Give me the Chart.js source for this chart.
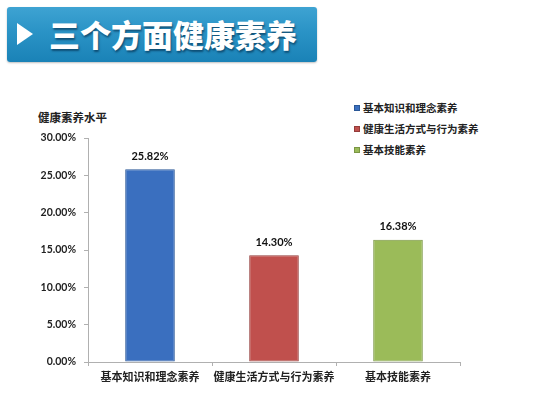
<!DOCTYPE html>
<html>
<head>
<meta charset="utf-8">
<script src="https://cdn.jsdelivr.net/npm/chart.js@4"></script>
<style>
  html, body { margin: 0; padding: 0; background: #ffffff; }
  body { width: 554px; height: 395px; position: relative; overflow: hidden; font-family: Lato, "Noto Sans CJK SC", sans-serif; }
  .banner {
    position: absolute; left: 7px; top: 7px; width: 310px; height: 55px;
    border-radius: 3px;
    background: linear-gradient(180deg, #3ea3d2 0%, #2a93c6 45%, #1a82b7 100%);
    box-shadow: 0 1px 2px rgba(0,0,0,0.25);
  }
  .banner .tri {
    position: absolute; left: 10px; top: 16px; width: 0; height: 0;
    border-top: 11px solid transparent; border-bottom: 11px solid transparent;
    border-left: 16px solid #ffffff;
  }
  .banner .txt {
    position: absolute; left: 42px; top: 8px; color: #ffffff;
    font: 900 31px "Noto Sans CJK SC", sans-serif; letter-spacing: 0px;
    text-shadow: 1px 2px 2px rgba(0,40,70,0.6);
    line-height: 38px;
  }
  .ytitle { position: absolute; left: 38px; top: 109px; font: 700 11.5px "Noto Sans CJK SC", sans-serif; color: #222; }
  .legend { position: absolute; left: 354px; top: 100px; font: 700 10.5px "Noto Sans CJK SC", sans-serif; color: #222; }
  .legend div { height: 21px; line-height: 16px; white-space: nowrap; }
  .legend span { display: inline-block; width: 6px; height: 6px; margin-right: 3px; vertical-align: 1px; }
  #wrap { position: absolute; left: 0; top: 90px; width: 554px; height: 305px; }
</style>
</head>
<body>
<div class="banner"><div class="tri"></div><div class="txt">三个方面健康素养</div></div>
<div class="ytitle">健康素养水平</div>
<div class="legend" id="legend"></div>
<div id="wrap"><canvas id="chart"></canvas></div>
<script>
const categories = ['基本知识和理念素养', '健康生活方式与行为素养', '基本技能素养'];
const values = [25.82, 14.30, 16.38];
const barColors = ['#3a6fbf', '#c0504d', '#9bbb59'];
const edgeColors = ['#2a5797', '#943c3a', '#7a9644'];
const tickValues = [0, 5, 10, 15, 20, 25, 30];

// 图例
const legendEl = document.getElementById('legend');
categories.forEach((c, i) => {
    const row = document.createElement('div');
    row.innerHTML = '<span style="background:' + barColors[i] + ';border:1px solid ' + edgeColors[i] + ';box-sizing:border-box"></span>' + c;
    legendEl.appendChild(row);
});

// 柱子横向渐变
function barFill(ctx) {
    const el = ctx.element;
    const i = ctx.dataIndex;
    if (!el || el.width === undefined) return barColors[i];
    const g = ctx.chart.ctx.createLinearGradient(el.x - el.width / 2, 0, el.x + el.width / 2, 0);
    g.addColorStop(0, edgeColors[i]);
    g.addColorStop(0.12, barColors[i]);
    g.addColorStop(0.88, barColors[i]);
    g.addColorStop(1, edgeColors[i]);
    return g;
}

const valueLabels = {
    id: 'valueLabels',
    afterDatasetsDraw(chart) {
        const ctx = chart.ctx;
        const meta = chart.getDatasetMeta(0);
        ctx.save();
        ctx.font = '700 11px Lato, sans-serif';
        ctx.fillStyle = '#111';
        ctx.textAlign = 'center';
        ctx.textBaseline = 'middle';
        meta.data.forEach((bar, i) => {
            ctx.fillText(values[i].toFixed(2) + '%', bar.x, bar.y - 13);
        });
        ctx.restore();
    }
};

new Chart(document.getElementById('chart'), {
    type: 'bar',
    data: {
        labels: categories,
        datasets: [{
            data: values,
            backgroundColor: barFill,
            borderColor: edgeColors,
            borderWidth: 1,
            borderSkipped: false,
            barPercentage: 0.8,
            categoryPercentage: 0.5
        }]
    },
    options: {
        responsive: true,
        maintainAspectRatio: false,
        animation: false,
        layout: { padding: { left: 0, right: 94, top: 48, bottom: 0 } },
        plugins: { legend: { display: false }, tooltip: { enabled: false } },
        scales: {
            y: {
                min: 0, max: 30,
                afterBuildTicks: axis => { axis.ticks = tickValues.map(v => ({ value: v })); },
                afterFit: axis => { axis.width = 88; },
                grid: { drawOnChartArea: false, drawTicks: true, tickLength: 4, color: '#b0b0b0' },
                border: { color: '#b0b0b0' },
                ticks: {
                    padding: 8,
                    color: '#222',
                    font: { family: 'Lato', size: 10.5, weight: '700' },
                    callback: v => v.toFixed(2) + '%'
                }
            },
            x: {
                afterFit: axis => { axis.height = 33; },
                grid: { drawOnChartArea: false, drawTicks: true, tickLength: 4, color: '#b0b0b0', offset: true },
                border: { color: '#b0b0b0' },
                ticks: {
                    padding: 4,
                    color: '#222',
                    maxRotation: 0,
                    autoSkip: false,
                    font: { family: '"Noto Sans CJK SC"', size: 11, weight: '700' }
                }
            }
        }
    },
    plugins: [valueLabels]
});
</script>
</body>
</html>
